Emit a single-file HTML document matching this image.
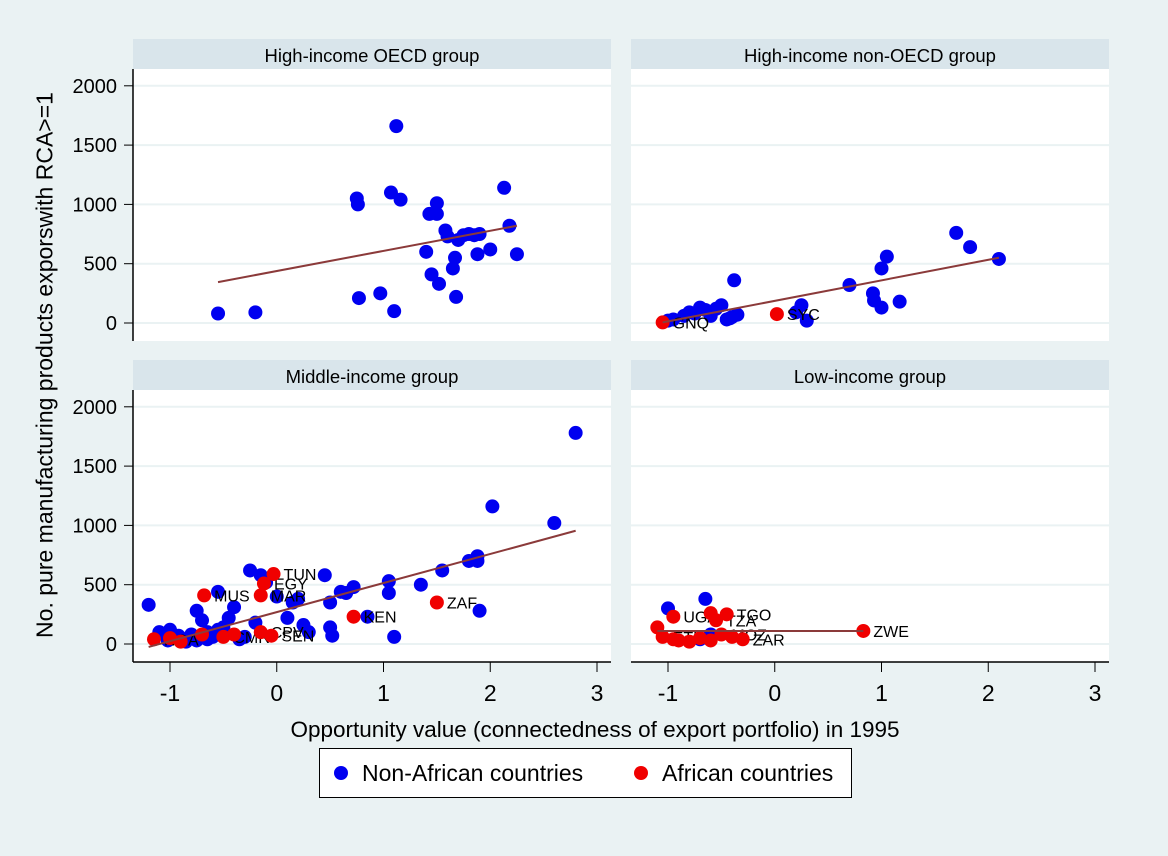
<!DOCTYPE html>
<html><head><meta charset="utf-8"><style>
body{margin:0;background:#eaf2f3;}
svg{display:block;font-family:"Liberation Sans",sans-serif;}
</style></head><body>
<svg id="c" width="1168" height="856"></svg>
<script>
const tl=[[-0.55,80],[-0.2,90],[0.75,1050],[0.76,1000],[0.77,210],[0.97,250],[1.07,1100],[1.1,100],[1.12,1660],[1.16,1040],[1.4,600],[1.43,920],[1.45,410],[1.5,920],[1.5,1010],[1.52,330],[1.58,780],[1.6,730],[1.65,460],[1.67,550],[1.68,220],[1.7,700],[1.75,740],[1.8,750],[1.85,740],[1.88,580],[1.9,750],[2.0,620],[2.13,1140],[2.18,820],[2.25,580]];
const tlRed=[];
const tlFit=[[-0.55,345],[2.25,820]];
const tr=[[-1,20],[-0.95,30],[-0.85,60],[-0.8,90],[-0.75,80],[-0.7,130],[-0.65,110],[-0.6,60],[-0.55,120],[-0.5,150],[-0.45,30],[-0.42,40],[-0.4,50],[-0.38,360],[-0.35,70],[0.2,90],[0.25,150],[0.3,20],[0.7,320],[0.92,250],[0.93,190],[1.0,460],[1.0,130],[1.05,560],[1.17,180],[1.7,760],[1.83,640],[2.1,540]];
const trRed=[[-1.05,5,'GNQ'],[0.02,75,'SYC']];
const trFit=[[-1.05,5],[2.1,550]];
const bl=[[-1.2,330],[-1.1,100],[-1.05,80],[-1.0,120],[-0.95,60],[-0.9,40],[-0.85,20],[-0.8,80],[-0.75,280],[-0.7,200],[-0.65,100],[-0.6,60],[-0.55,440],[-0.5,140],[-0.45,220],[-0.4,310],[-0.35,40],[-0.3,60],[-0.25,620],[-0.2,180],[-0.15,580],[-0.1,520],[0.0,400],[0.1,220],[0.15,350],[0.2,380],[0.25,160],[0.3,100],[0.45,580],[0.5,350],[0.5,140],[0.52,70],[0.6,440],[0.65,430],[0.72,480],[0.85,230],[1.05,430],[1.05,530],[1.1,60],[1.35,500],[1.55,620],[1.8,700],[1.88,740],[1.88,700],[1.9,280],[2.02,1160],[2.6,1020],[2.8,1780],[-1.02,30],[-0.92,70],[-0.75,30],[-0.65,40],[-0.55,120]];
const blRed=[[-1.15,40,'NGA'],[-1.0,50,''],[-0.9,20,''],[-0.7,80,''],[-0.68,410,'MUS'],[-0.5,60,'CMR'],[-0.4,80,''],[-0.15,410,'MAR'],[-0.12,510,'EGY'],[-0.15,100,'CPV'],[-0.03,590,'TUN'],[-0.05,70,'SEN'],[0.72,230,'KEN'],[1.5,350,'ZAF']];
const blFit=[[-1.2,-25],[2.8,955]];
const br=[[-1.0,300],[-0.65,380],[-0.6,80],[-0.7,40]];
const brRed=[[-1.1,140,''],[-0.95,230,'UGA'],[-0.6,260,''],[-0.55,200,'TZA'],[-0.45,250,'TGO'],[-1.05,60,'ETH'],[-0.95,40,''],[-0.9,30,''],[-0.8,20,''],[-0.7,50,''],[-0.6,30,''],[-0.5,80,'MOZ'],[-0.4,60,''],[-0.3,40,'ZAR'],[0.83,110,'ZWE']];
const brFit=[[-1.1,110],[0.83,110]];
const xTicks=[-1,0,1,2,3];
const yTicks=[0,500,1000,1500,2000];
const titles=['High-income OECD group','High-income non-OECD group','Middle-income group','Low-income group'];

const NS='http://www.w3.org/2000/svg',svg=document.getElementById('c');
function el(t,a,p){const e=document.createElementNS(NS,t);for(const k in a)e.setAttribute(k,a[k]);(p||svg).appendChild(e);return e;}
const panels=[{x0:133,y0:39,data:tl,red:tlRed,fit:tlFit,xa:false,ya:true},{x0:631,y0:39,data:tr,red:trRed,fit:trFit,xa:false,ya:false},{x0:133,y0:360,data:bl,red:blRed,fit:blFit,xa:true,ya:true},{x0:631,y0:360,data:br,red:brRed,fit:brFit,xa:true,ya:false}];
panels.forEach((p,i)=>{
 const W=478,sh=30,H=272;
 const g=el('g',{});
 
 
 const s=el('rect',{x:p.x0,y:p.y0,width:W,height:sh,fill:'#d9e5eb'},g);
 
 
 const t=el('text',{x:p.x0+W/2,y:p.y0+23,'text-anchor':'middle','font-size':18.5},g);t.textContent=titles[i];
 
 
 const py=p.y0+sh;
 el('rect',{x:p.x0,y:py,width:W,height:H,fill:'#fff'},g);
 const X=v=>p.x0+37+(v+1)*106.75;
 const Y=v=>py+254-v*0.1186;
 yTicks.forEach(v=>{el('line',{x1:p.x0,x2:p.x0+W,y1:Y(v),y2:Y(v),stroke:'#eaf2f3','stroke-width':2},g);
  if(p.ya){el('line',{x1:p.x0-9,x2:p.x0,y1:Y(v),y2:Y(v),stroke:'#000'},g);
   const tt=el('text',{x:p.x0-16,y:Y(v)+7,'text-anchor':'end','font-size':20},g);tt.textContent=v;
   
   }});
 if(p.ya)el('line',{x1:p.x0,x2:p.x0,y1:py,y2:py+H,stroke:'#000','stroke-width':1.5},g);
 if(p.xa){el('line',{x1:p.x0,x2:p.x0+W,y1:py+H,y2:py+H,stroke:'#000','stroke-width':1.5},g);
  xTicks.forEach(v=>{el('line',{x1:X(v),x2:X(v),y1:py+H,y2:py+H+10,stroke:'#000'},g);
   const tt=el('text',{x:X(v),y:701,'text-anchor':'middle','font-size':23},g);tt.textContent=v===-1?'-1':v;
   
   });}
 p.data.forEach(d=>{const c=el('circle',{cx:X(d[0]),cy:Y(d[1]),r:7,fill:'#0000f0'},g);
  
  });
 p.red.forEach(d=>{const c=el('circle',{cx:X(d[0]),cy:Y(d[1]),r:7,fill:'#f00000'},g);
  
  
  if(d[2]){const tt=el('text',{x:X(d[0])+10,y:Y(d[1])+6,'font-size':16},g);tt.textContent=d[2];
   
   }});
 const f=el('line',{x1:X(p.fit[0][0]),y1:Y(p.fit[0][1]),x2:X(p.fit[1][0]),y2:Y(p.fit[1][1]),stroke:'#8b3a3a','stroke-width':2},g);
 
 
});
</script>
<div style="position:absolute;left:0;top:0;width:1168px;height:856px;pointer-events:none;font-family:'Liberation Sans',sans-serif;">
 <div style="position:absolute;left:45px;top:365px;transform:translate(-50%,-50%) rotate(-90deg);white-space:nowrap;font-size:23px;">No. pure manufacturing products exporswith RCA&gt;=1</div>
 <div style="position:absolute;left:595px;top:717px;transform:translateX(-50%);white-space:nowrap;font-size:22.5px;">Opportunity value (connectedness of export portfolio) in 1995</div>
 <div style="position:absolute;left:319px;top:748px;width:531px;height:48px;background:#fff;border:1px solid #000;font-size:23px;">
  <span style="position:absolute;left:14px;top:17px;width:14px;height:14px;border-radius:50%;background:#0000f0;"></span>
  <span style="position:absolute;left:42px;top:11px;">Non-African countries</span>
  <span style="position:absolute;left:314px;top:17px;width:14px;height:14px;border-radius:50%;background:#f00000;"></span>
  <span style="position:absolute;left:342px;top:11px;">African countries</span>
 </div>
</div>
</body></html>
